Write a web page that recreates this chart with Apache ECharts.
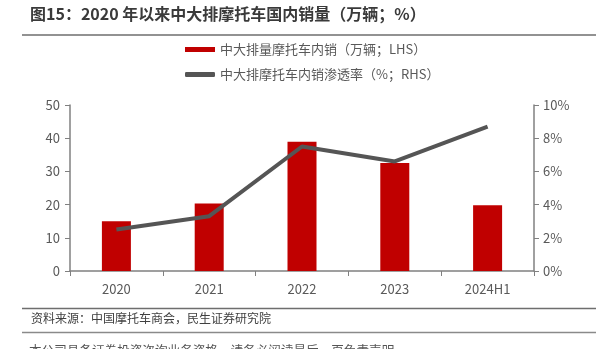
<!DOCTYPE html>
<html>
<head>
<meta charset="utf-8">
<script src="https://cdn.jsdelivr.net/npm/echarts@6/dist/echarts.min.js"></script>
<style>html,body{margin:0;padding:0;background:#fff;}#c{width:601px;height:349px;}</style>
</head>
<body>
<div id="c"></div>
<script>
var categories = ['2020', '2021', '2022', '2023', '2024H1'];
var salesValues = [15.0, 20.3, 38.9, 32.5, 19.8];
var penetrationValues = [2.5, 3.3, 7.5, 6.6, 8.7];
var leftTicks = [0, 10, 20, 30, 40, 50];
var rightTicks = [0, 2, 4, 6, 8, 10];
var titleText = '图15：2020 年以来中大排摩托车国内销量（万辆；%）';
var sourceText = '资料来源：中国摩托车商会，民生证券研究院';
var footerText = '本公司具备证券投资咨询业务资格，请务必阅读最后一页免责声明';
var barName = '中大排量摩托车内销（万辆；LHS）';
var lineName = '中大排摩托车内销渗透率（%；RHS）';

var FONT = '"Noto Sans CJK SC", sans-serif';
var chart = echarts.init(document.getElementById('c'), null, {renderer: 'canvas'});
var axisColor = '#808080';
var labelColor = '#595959';
chart.setOption({
  animation: false,
  textStyle: {fontFamily: FONT},
  grid: {left: 70, right: 67, top: 105, bottom: 78, containLabel: false},
  graphic: [
    {type: 'text', left: 30, top: 6, style: {text: titleText, font: 'bold 16px ' + FONT, fill: '#3a3a3a'}},
    {type: 'line', shape: {x1: 22, y1: 35, x2: 596, y2: 35}, style: {stroke: '#6e6e6e', lineWidth: 1.5}},
    {type: 'line', shape: {x1: 22, y1: 308.5, x2: 596, y2: 308.5}, style: {stroke: '#6e6e6e', lineWidth: 1.5}},
    {type: 'text', left: 31, top: 312, style: {text: sourceText, font: '12px ' + FONT, fill: '#404040'}},
    {type: 'line', shape: {x1: 22, y1: 332.5, x2: 596, y2: 332.5}, style: {stroke: '#8a8a8a', lineWidth: 1.5}},
    {type: 'text', left: 29, top: 344, style: {text: footerText, font: '12.6px ' + FONT, fill: '#555555'}}
  ],
  legend: {
    orient: 'vertical',
    left: 180,
    top: 38,
    itemGap: 12,
    itemWidth: 30,
    itemHeight: 5,
    textStyle: {fontSize: 13, color: labelColor, fontFamily: FONT},
    data: [
      {name: barName, icon: 'rect'},
      {name: lineName, icon: 'roundRect'}
    ]
  },
  xAxis: {
    type: 'category',
    data: categories,
    axisLine: {lineStyle: {color: axisColor, width: 1.5}},
    axisTick: {show: true, length: 5, lineStyle: {color: axisColor}},
    axisLabel: {color: labelColor, fontSize: 13, margin: 12, fontFamily: FONT}
  },
  yAxis: [
    {
      type: 'value', min: leftTicks[0], max: leftTicks[leftTicks.length - 1], interval: 10,
      axisLine: {show: true, lineStyle: {color: axisColor, width: 1.5}},
      axisTick: {show: true, length: 5, lineStyle: {color: axisColor}},
      splitLine: {show: false},
      axisLabel: {color: labelColor, fontSize: 13, margin: 10, fontFamily: FONT}
    },
    {
      type: 'value', min: rightTicks[0], max: rightTicks[rightTicks.length - 1], interval: 2,
      position: 'right',
      axisLine: {show: true, lineStyle: {color: axisColor, width: 1.5}},
      axisTick: {show: true, length: 5, lineStyle: {color: axisColor}},
      splitLine: {show: false},
      axisLabel: {color: labelColor, fontSize: 13, margin: 9, formatter: '{value}%', fontFamily: FONT}
    }
  ],
  series: [
    {
      name: barName, type: 'bar', data: salesValues, barWidth: 29,
      itemStyle: {color: '#C00000'}
    },
    {
      name: lineName, type: 'line', yAxisIndex: 1, data: penetrationValues,
      symbol: 'none', lineStyle: {color: '#555555', width: 4}, itemStyle: {color: '#555555'}
    }
  ]
});
</script>
</body>
</html>
